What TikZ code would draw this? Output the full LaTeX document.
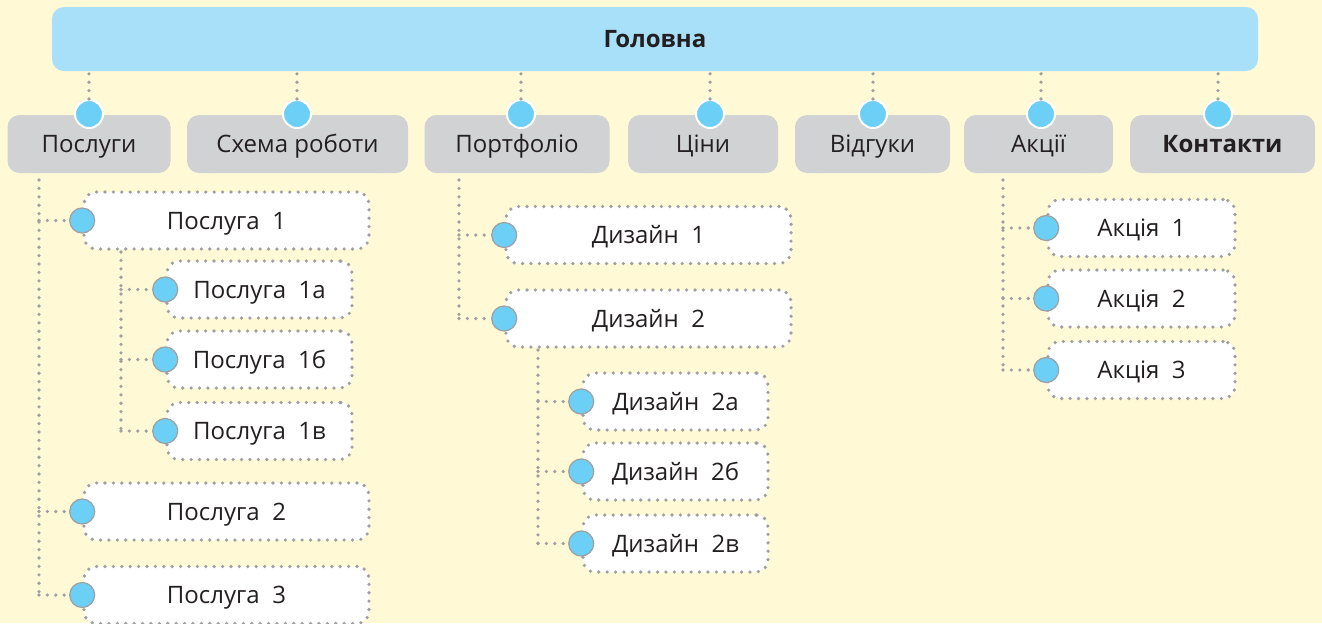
\documentclass[tikz,border=0pt]{standalone}
\usepackage{fontspec}
\setmainfont{Open Sans}
\usetikzlibrary{positioning}
\definecolor{paper}{RGB}{255,249,214}
\definecolor{barblue}{RGB}{168,224,250}
\definecolor{secgray}{RGB}{209,210,212}
\definecolor{pinblue}{RGB}{108,207,246}
\definecolor{dotgray}{RGB}{158,160,163}
\definecolor{ink}{RGB}{35,31,32}

\begin{document}
\begin{tikzpicture}[x=0.5pt,y=-0.5pt,
  every node/.style={font=\fontsize{12}{14}\selectfont,text=ink,inner sep=0pt,text height=8.6pt,text depth=0pt},
  dotline/.style={draw=dotgray,line width=1.8pt,line cap=round,dash pattern=on 0pt off 4.2pt},
  top/.style={fill=barblue,rounded corners=6pt,minimum width=603pt,minimum height=32pt,font=\fontsize{12}{14}\selectfont\bfseries},
  sec/.style={fill=secgray,rounded corners=6pt,minimum height=29pt},
  sub/.style={fill=white,dotline,rounded corners=6pt,minimum height=28.5pt},
  wide/.style={sub,minimum width=142.5pt},
  narrow/.style={sub,minimum width=92.5pt},
  hub/.style={circle,fill=pinblue,draw=white,line width=1pt,minimum size=14pt},
  pin/.style={circle,fill=pinblue,draw=dotgray,line width=0.6pt,minimum size=12.5pt},
  e/.style={dotline}]
\path[use as bounding box,fill=paper] (0,0) rectangle (1322,623);
% top bar
\node[top] (Holovna) at (655,39) {Головна};
% sections
\node[sec,minimum width=81.5pt] (Posluhy) at (89,144) {Послуги};
\node[sec,minimum width=110.5pt] (Skhema) at (297.5,144) {Схема роботи};
\node[sec,minimum width=92.5pt] (Portfolio) at (517,144) {Портфоліо};
\node[sec,minimum width=75pt] (Tsiny) at (703,144) {Ціни};
\node[sec,minimum width=77.5pt] (Vidhuky) at (872.5,144) {Відгуки};
\node[sec,minimum width=74.5pt] (Aktsii) at (1038.5,144) {Акції};
\node[sec,minimum width=92.5pt,font=\fontsize{12}{14}\selectfont\bfseries] (Kontakty) at (1222.5,144) {Контакти};
\node[hub] (PosluhyHub) at (89,114) {};
\node[hub] (SkhemaHub) at (297,114) {};
\node[hub] (PortfolioHub) at (521,114) {};
\node[hub] (TsinyHub) at (710,114) {};
\node[hub] (VidhukyHub) at (873,114) {};
\node[hub] (AktsiiHub) at (1041,114) {};
\node[hub] (KontaktyHub) at (1218,114) {};
% services
\node[wide] (Posluha1) at (226.5,220.5) {Послуга\ \ 1};
\node[narrow] (Posluha1a) at (259.5,289.5) {Послуга\ \ 1а};
\node[narrow] (Posluha1b) at (259.5,359.5) {Послуга\ \ 1б};
\node[narrow] (Posluha1v) at (259.5,431) {Послуга\ \ 1в};
\node[wide] (Posluha2) at (226.5,511.5) {Послуга\ \ 2};
\node[wide] (Posluha3) at (226.5,595) {Послуга\ \ 3};
% portfolio
\node[wide] (Dyzain1) at (648.5,235) {Дизайн\ \ 1};
\node[wide] (Dyzain2) at (648.5,318.5) {Дизайн\ \ 2};
\node[narrow] (Dyzain2a) at (675.5,401.5) {Дизайн\ \ 2а};
\node[narrow] (Dyzain2b) at (675.5,471.5) {Дизайн\ \ 2б};
\node[narrow] (Dyzain2v) at (675.5,543.5) {Дизайн\ \ 2в};
% promotions
\node[narrow,minimum width=93.5pt] (Aktsia1) at (1141.5,228) {Акція\ \ 1};
\node[narrow,minimum width=93.5pt] (Aktsia2) at (1141.5,298.5) {Акція\ \ 2};
\node[narrow,minimum width=93.5pt] (Aktsia3) at (1141.5,370) {Акція\ \ 3};
% trunks
\coordinate (PosluhyTrunk) at (39,180);
\coordinate (Posluha1Trunk) at (121,252);
\coordinate (PortfolioTrunk) at (459,180);
\coordinate (Dyzain2Trunk) at (538,350);
\coordinate (AktsiiTrunk) at (1003,180);
% top links
\foreach \s in {Posluhy,Skhema,Portfolio,Tsiny,Vidhuky,Aktsii,Kontakty}
  \draw[e] (\s Hub) -- (\s Hub |- Holovna.south);
% pins and links
\foreach \n/\t in {Posluha1/PosluhyTrunk,Posluha2/PosluhyTrunk,Posluha3/PosluhyTrunk,
  Posluha1a/Posluha1Trunk,Posluha1b/Posluha1Trunk,Posluha1v/Posluha1Trunk,
  Dyzain1/PortfolioTrunk,Dyzain2/PortfolioTrunk,
  Dyzain2a/Dyzain2Trunk,Dyzain2b/Dyzain2Trunk,Dyzain2v/Dyzain2Trunk,
  Aktsia1/AktsiiTrunk,Aktsia2/AktsiiTrunk,Aktsia3/AktsiiTrunk}{
  \node[pin] (\n Pin) at (\n.west) {};
  \draw[e] (\t |- \n Pin) -- (\n Pin);
}
\draw[e] (PosluhyTrunk) -- (PosluhyTrunk |- Posluha3Pin);
\draw[e] (Posluha1Trunk) -- (Posluha1Trunk |- Posluha1vPin);
\draw[e] (PortfolioTrunk) -- (PortfolioTrunk |- Dyzain2Pin);
\draw[e] (Dyzain2Trunk) -- (Dyzain2Trunk |- Dyzain2vPin);
\draw[e] (AktsiiTrunk) -- (AktsiiTrunk |- Aktsia3Pin);
\end{tikzpicture}
\end{document}
